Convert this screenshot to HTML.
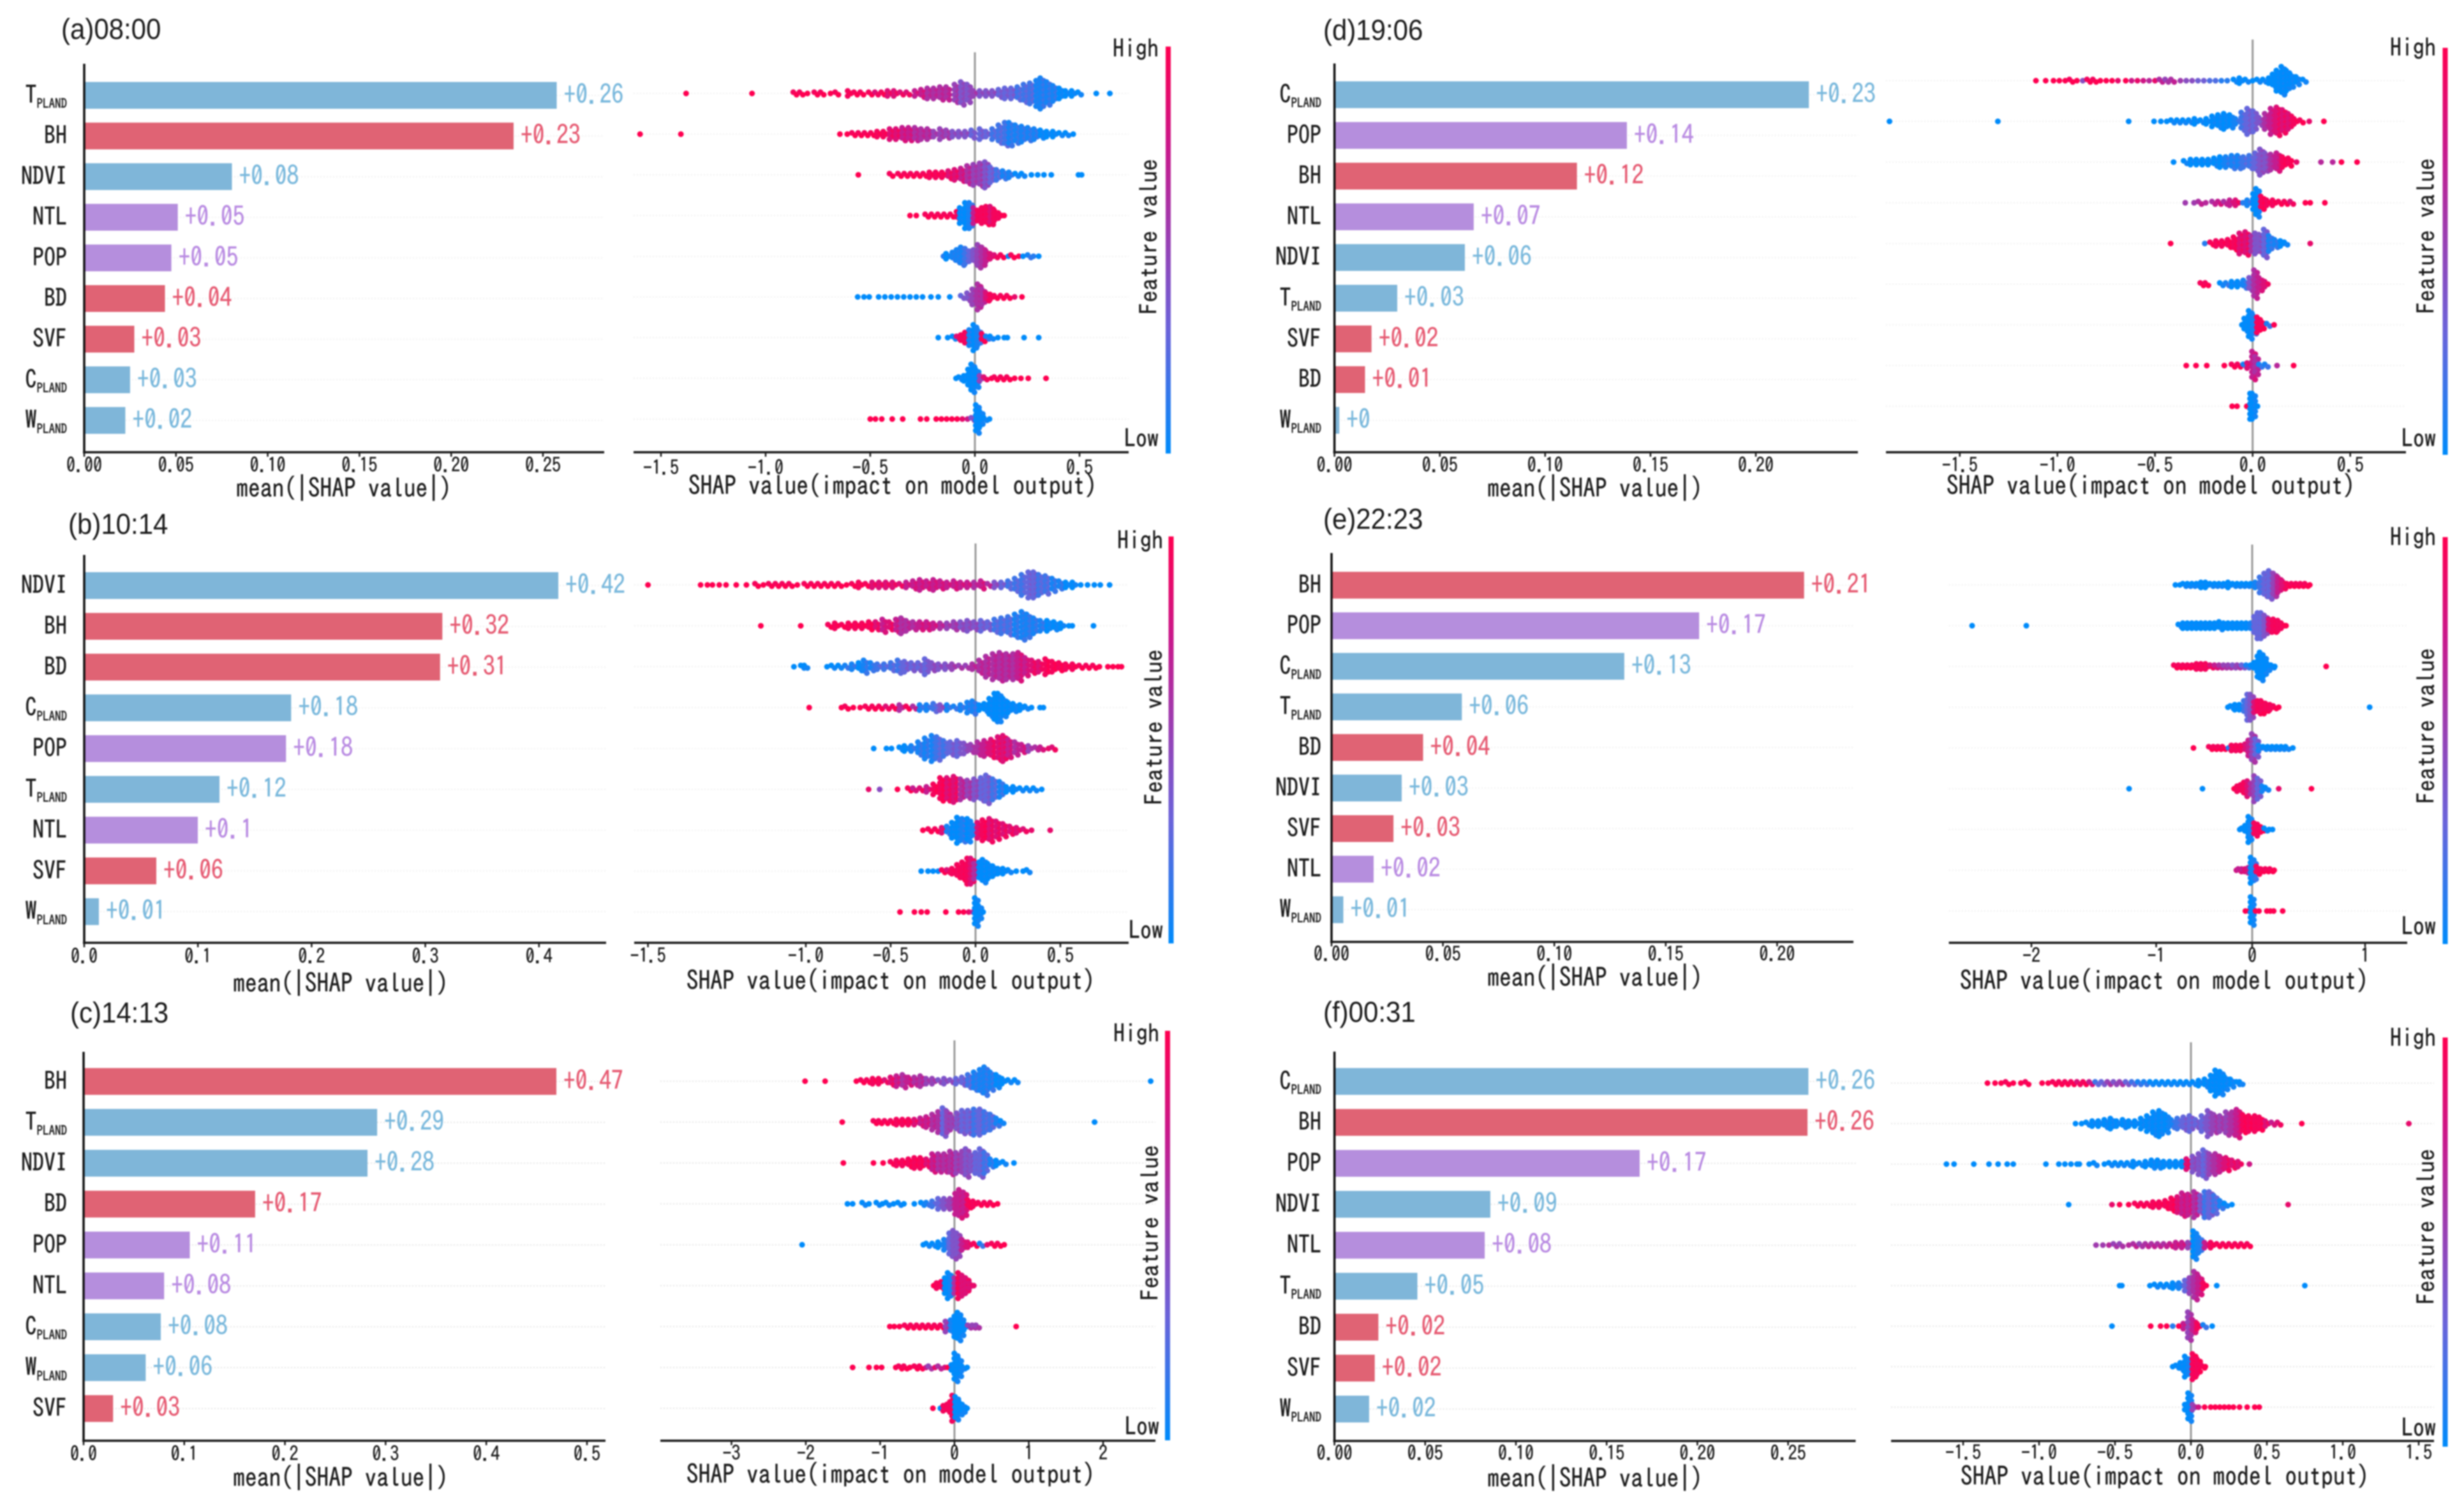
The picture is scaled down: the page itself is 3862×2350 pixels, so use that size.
<!DOCTYPE html>
<html lang="en">
<head>
<meta charset="utf-8">
<title>SHAP importance by time of day</title>
<style>
html,body{margin:0;padding:0;background:#fff;width:3862px;height:2350px;overflow:hidden}
svg{display:block;filter:blur(1px)}
text{font-family:"IPAGothic","Liberation Mono","Noto Sans CJK JP",monospace;fill:#1c1c1c;stroke:#1c1c1c;stroke-width:.4}
.title{font-family:"Liberation Sans","Noto Sans CJK JP",sans-serif;stroke-width:0}
</style>
</head>
<body>
<svg id="fig" xmlns="http://www.w3.org/2000/svg" width="3862" height="2350" viewBox="0 0 3862 2350">
<defs>
<linearGradient id="cbGrad" x1="0" y1="1" x2="0" y2="0">
<stop offset="0" stop-color="#008bfb"/><stop offset="0.3" stop-color="#6a64da"/><stop offset="0.55" stop-color="#9e3caf"/><stop offset="0.75" stop-color="#c8198c"/><stop offset="1" stop-color="#ff0051"/>
</linearGradient>
</defs>
</svg>
<script>
/* ---------- panel (a) ---------- */
const featuresA=["TPLAND","BH","NDVI","NTL","POP","BD","SVF","CPLAND","WPLAND"];
const meanShapA=[.2575,.234,.0805,.051,.0475,.044,.0273,.025,.0224];
const barTickValuesA=[0,.05,.1,.15,.2,.25];
const barTickLabelsA=["0.00","0.05","0.10","0.15","0.20","0.25"];
const swarmTickValuesA=[-1.5,-1,-.5,0,.5];
const swarmTickLabelsA=["-1.5","-1.0","-0.5","0.0","0.5"];
/* each swarm bin: [SHAP value, number of stacked samples, feature value decile 0-9] */
const swarmA=[
[[-1.38,1,9],[-1.065,1,9],[-.86,2,9],[-.83,2,9],[-.8,1,9],[-.76,2,9],[-.73,2,9],[-.69,1,9],[-.66,2,9],[-.6,3,9],[-.57,2,9],[-.54,2,9],[-.5,2,9],[-.47,2,8],[-.44,2,9],[-.41,3,8],[-.38,3,8],[-.35,2,8],[-.32,2,8],[-.28,3,7],[-.25,4,7],[-.22,5,6],[-.19,5,6],[-.16,6,6],[-.13,6,6],[-.09,8,5],[-.06,10,4],[-.03,8,4],[0,3,5],[.03,3,4],[.06,3,4],[.09,3,4],[.12,4,3],[.15,5,3],[.18,5,3],[.21,6,2],[.24,8,2],[.27,9,2],[.3,11,1],[.32,13,1],[.35,10,1],[.38,7,1],[.41,5,0],[.44,3,0],[.47,3,0],[.5,2,0],[.58,1,0],[.645,1,0]],
[[-1.6,1,9],[-1.405,1,9],[-.645,1,9],[-.61,1,9],[-.58,2,9],[-.55,2,9],[-.52,2,9],[-.49,2,9],[-.46,3,9],[-.43,3,9],[-.4,5,8],[-.37,5,8],[-.34,6,7],[-.31,6,7],[-.28,6,6],[-.25,5,6],[-.22,5,6],[-.19,3,5],[-.16,5,5],[-.13,4,5],[-.1,3,4],[-.07,3,4],[-.04,3,4],[-.01,4,3],[.03,5,3],[.06,3,3],[.09,5,2],[.12,8,2],[.15,10,2],[.17,10,1],[.2,8,1],[.23,7,1],[.26,6,1],[.29,5,1],[.32,4,0],[.35,3,0],[.38,3,0],[.41,2,0],[.44,2,0],[.47,1,0]],
[[-.557,1,9],[-.4,2,9],[-.36,2,9],[-.33,2,9],[-.3,2,9],[-.27,2,9],[-.24,2,9],[-.21,3,9],[-.18,3,9],[-.15,3,9],[-.12,4,8],[-.09,5,8],[-.06,6,7],[-.03,8,6],[0,9,5],[.03,10,5],[.055,11,4],[.08,7,3],[.11,5,2],[.14,4,1],[.17,3,1],[.2,2,0],[.23,2,0],[.27,1,0],[.3,1,0],[.33,1,0],[.365,1,0],[.495,1,0],[.51,1,0]],
[[-.31,1,9],[-.28,1,9],[-.23,2,9],[-.2,2,9],[-.17,2,9],[-.14,2,9],[-.11,2,9],[-.08,4,9],[-.065,7,0],[-.04,11,0],[-.02,11,1],[0,7,7],[.02,5,9],[.04,7,9],[.06,8,9],[.08,8,8],[.1,5,9],[.12,3,9],[.14,1,9]],
[[-.15,1,1],[-.13,3,0],[-.1,4,1],[-.08,6,1],[-.06,8,1],[-.04,7,2],[-.02,5,3],[0,6,4],[.02,10,5],[.04,8,6],[.06,5,7],[.08,3,8],[.1,2,8],[.13,2,9],[.16,1,0],[.18,2,9],[.21,1,9],[.23,1,0],[.26,2,1],[.28,1,1],[.305,1,0]],
[[-.56,1,0],[-.53,1,0],[-.505,1,0],[-.46,1,0],[-.43,1,0],[-.4,1,0],[-.37,1,0],[-.34,1,0],[-.31,1,0],[-.28,1,0],[-.25,1,0],[-.21,1,0],[-.175,1,0],[-.12,1,0],[-.06,2,3],[-.03,4,4],[-.005,7,5],[.02,11,6],[.04,7,6],[.06,4,8],[.08,3,9],[.1,2,9],[.13,2,9],[.16,2,9],[.19,1,8],[.225,1,9]],
[[-.175,1,0],[-.13,1,0],[-.1,2,0],[-.08,2,8],[-.06,3,9],[-.04,5,9],[-.02,7,1],[0,11,0],[.02,7,1],[.04,4,9],[.06,2,1],[.08,2,0],[.11,1,0],[.14,1,0],[.155,1,0],[.235,1,0],[.305,1,0]],
[[-.09,1,0],[-.07,2,0],[-.045,3,0],[-.025,8,0],[-.01,12,0],[.01,8,0],[.03,3,5],[.05,2,8],[.08,1,9],[.1,2,9],[.13,2,9],[.16,2,9],[.19,1,9],[.22,1,9],[.255,1,9],[.34,1,9]],
[[-.5,1,9],[-.475,1,9],[-.445,1,9],[-.395,1,9],[-.345,1,9],[-.26,1,9],[-.23,1,9],[-.185,1,9],[-.16,1,9],[-.135,1,9],[-.11,1,9],[-.085,1,9],[-.06,1,8],[-.035,1,7],[-.01,2,4],[.012,12,0],[.03,7,0],[.05,2,0],[.07,1,0]]
];
/* ---------- panel (b) ---------- */
const featuresB=["NDVI","BH","BD","CPLAND","POP","TPLAND","NTL","SVF","WPLAND"];
const meanShapB=[.417,.315,.313,.182,.1775,.119,.0999,.0634,.0129];
const barTickValuesB=[0,.1,.2,.3,.4];
const barTickLabelsB=["0.0","0.1","0.2","0.3","0.4"];
const swarmTickValuesB=[-1.93,-1,-.5,0,.5];
const swarmTickLabelsB=["-1.5","-1.0","-0.5","0.0","0.5"];
const swarmB=[
[[-1.93,1,9],[-1.62,1,9],[-1.58,1,9],[-1.55,1,9],[-1.51,1,9],[-1.47,1,9],[-1.41,1,9],[-1.35,1,9],[-1.29,2,9],[-1.25,1,9],[-1.21,2,9],[-1.17,2,9],[-1.13,2,9],[-1.09,2,9],[-1.05,1,9],[-1.0,2,9],[-.96,2,9],[-.92,2,9],[-.88,2,9],[-.84,2,9],[-.8,2,9],[-.76,1,9],[-.72,2,9],[-.68,3,9],[-.64,2,9],[-.6,3,8],[-.56,3,8],[-.52,3,8],[-.48,3,8],[-.44,2,8],[-.4,3,7],[-.36,4,7],[-.32,5,7],[-.28,4,7],[-.24,5,7],[-.2,4,7],[-.16,3,7],[-.12,4,7],[-.08,3,7],[-.04,3,7],[0,3,6],[.04,4,7],[.08,2,6],[.12,3,4],[.16,3,3],[.2,4,2],[.24,6,2],[.28,9,2],[.32,11,3],[.35,11,3],[.38,9,2],[.42,8,2],[.46,6,1],[.5,4,1],[.54,3,0],[.58,3,0],[.62,1,0],[.66,1,0],[.7,1,0],[.735,1,0],[.79,1,0]],
[[-1.265,1,9],[-1.03,1,9],[-.86,2,9],[-.82,3,9],[-.78,2,9],[-.74,3,9],[-.7,3,9],[-.66,3,9],[-.62,4,9],[-.58,4,8],[-.54,6,7],[-.5,4,8],[-.46,6,7],[-.43,7,6],[-.4,5,6],[-.36,4,6],[-.32,4,7],[-.28,4,7],[-.24,3,7],[-.2,3,6],[-.16,3,5],[-.12,4,5],[-.08,4,4],[-.04,5,4],[0,4,4],[.04,5,3],[.08,4,3],[.12,6,2],[.16,7,2],[.2,8,2],[.24,10,1],[.28,12,1],[.31,10,1],[.35,7,1],[.39,5,1],[.43,5,0],[.47,4,0],[.51,3,0],[.55,1,0],[.57,1,0],[.695,1,0]],
[[-1.07,1,0],[-1.02,2,0],[-1.0,2,0],[-.875,1,0],[-.84,2,0],[-.8,2,0],[-.76,2,1],[-.72,3,1],[-.68,4,0],[-.65,6,1],[-.61,4,1],[-.57,3,2],[-.53,3,2],[-.49,4,2],[-.45,6,2],[-.41,5,3],[-.37,4,3],[-.33,4,3],[-.29,7,3],[-.25,4,4],[-.21,3,4],[-.17,3,4],[-.13,3,5],[-.09,2,5],[-.05,2,5],[-.01,3,6],[.03,6,6],[.07,9,6],[.11,11,6],[.15,12,6],[.19,11,6],[.23,11,6],[.26,12,7],[.3,8,7],[.34,6,8],[.38,5,8],[.42,7,9],[.46,5,9],[.5,4,9],[.54,3,9],[.58,3,9],[.62,2,9],[.66,2,9],[.7,2,9],[.73,1,9],[.78,1,9],[.81,1,9],[.84,1,9],[.86,1,9]],
[[-.98,1,9],[-.79,1,9],[-.76,2,9],[-.72,1,9],[-.68,1,9],[-.64,2,9],[-.6,2,9],[-.56,2,9],[-.52,2,8],[-.48,2,9],[-.44,3,6],[-.4,2,9],[-.36,2,6],[-.32,3,1],[-.28,3,1],[-.24,4,2],[-.2,3,4],[-.16,3,1],[-.12,2,1],[-.08,3,1],[-.04,5,1],[-.01,6,1],[.03,3,0],[.06,4,0],[.09,8,0],[.12,12,0],[.14,12,0],[.17,8,0],[.2,5,0],[.23,4,0],[.27,3,0],[.3,2,0],[.33,1,0],[.38,1,0],[.4,1,0]],
[[-.6,1,0],[-.525,1,0],[-.495,1,0],[-.44,2,0],[-.41,3,0],[-.37,3,1],[-.33,6,1],[-.29,9,1],[-.25,11,1],[-.22,10,2],[-.18,7,2],[-.14,6,3],[-.1,7,3],[-.06,5,4],[-.02,4,5],[.02,6,6],[.06,7,7],[.1,8,8],[.14,10,8],[.17,11,8],[.2,8,7],[.24,6,6],[.28,4,7],[.32,3,5],[.36,2,6],[.39,2,7],[.43,1,8],[.46,2,8]],
[[-.63,1,8],[-.565,1,4],[-.46,1,9],[-.39,2,9],[-.36,2,7],[-.32,2,8],[-.28,3,7],[-.24,5,9],[-.2,10,9],[-.16,10,8],[-.12,11,8],[-.08,9,6],[-.04,8,5],[0,9,4],[.04,10,3],[.07,12,3],[.11,9,2],[.15,7,1],[.19,3,0],[.23,3,0],[.27,2,0],[.31,2,0],[.35,2,0],[.39,1,0]],
[[-.31,1,9],[-.27,2,9],[-.23,2,9],[-.19,3,8],[-.16,4,1],[-.13,7,0],[-.1,11,0],[-.07,10,1],[-.04,10,0],[-.01,5,1],[.02,7,8],[.05,9,9],[.09,10,8],[.13,8,8],[.17,6,8],[.21,4,8],[.25,3,8],[.29,2,8],[.33,1,8],[.44,1,8]],
[[-.32,1,0],[-.28,1,0],[-.25,1,0],[-.22,1,0],[-.19,2,9],[-.16,2,8],[-.13,3,9],[-.1,6,9],[-.07,8,9],[-.04,11,9],[-.02,11,8],[0,7,6],[.03,8,0],[.05,10,0],[.08,7,0],[.11,5,0],[.14,3,0],[.17,3,0],[.2,2,0],[.24,1,0],[.28,1,0],[.31,2,0]],
[[-.445,1,9],[-.36,1,9],[-.32,1,9],[-.285,1,9],[-.175,1,9],[-.1,1,9],[-.07,1,9],[-.04,1,8],[-.015,1,6],[.005,12,0],[.025,6,0],[.045,1,0]]
];
/* ---------- panel (c) ---------- */
const featuresC=["BH","TPLAND","NDVI","BD","POP","NTL","CPLAND","WPLAND","SVF"];
const meanShapC=[.4696,.2916,.282,.1704,.1055,.08,.0767,.0617,.0293];
const barTickValuesC=[0,.1,.2,.3,.4,.5];
const barTickLabelsC=["0.0","0.1","0.2","0.3","0.4","0.5"];
const swarmTickValuesC=[-3,-2,-1,0,1,2];
const swarmTickLabelsC=["-3","-2","-1","0","1","2"];
const swarmC=[
[[-2.01,1,9],[-1.74,1,9],[-1.32,1,9],[-1.24,2,9],[-1.16,2,9],[-1.08,3,9],[-1.0,3,9],[-.92,2,8],[-.84,4,8],[-.76,5,7],[-.68,6,6],[-.6,4,7],[-.52,4,6],[-.44,5,6],[-.36,3,5],[-.28,3,5],[-.2,2,4],[-.12,3,4],[-.04,2,4],[.04,3,3],[.12,4,3],[.2,6,2],[.28,8,1],[.36,10,1],[.42,12,1],[.5,8,1],[.58,6,0],[.66,3,0],[.74,2,0],[.83,2,0],[2.64,1,0]],
[[-1.51,1,9],[-1.07,2,9],[-1.0,2,9],[-.92,2,9],[-.84,2,9],[-.76,3,9],[-.68,3,9],[-.6,3,9],[-.52,3,8],[-.44,4,7],[-.36,5,7],[-.28,7,6],[-.2,9,6],[-.14,12,3],[-.08,9,5],[-.02,5,5],[.05,8,4],[.12,10,3],[.2,10,3],[.28,11,2],[.36,11,3],[.42,9,2],[.5,7,2],[.58,4,1],[.64,2,0],[1.885,1,0]],
[[-1.495,1,9],[-1.09,1,9],[-.96,1,9],[-.84,2,9],[-.76,3,9],[-.68,3,9],[-.6,4,9],[-.52,5,9],[-.44,5,9],[-.36,4,8],[-.28,8,7],[-.2,8,6],[-.12,8,6],[-.04,10,6],[.04,9,5],[.12,10,5],[.17,12,4],[.24,7,4],[.3,9,3],[.36,12,3],[.42,9,2],[.5,4,1],[.58,3,0],[.67,2,0],[.8,1,0]],
[[-1.44,1,0],[-1.37,1,0],[-1.22,2,0],[-1.15,1,0],[-1.03,2,0],[-.97,1,0],[-.9,2,0],[-.82,1,0],[-.74,2,0],[-.68,1,0],[-.54,1,0],[-.43,2,0],[-.36,2,1],[-.28,3,2],[-.2,5,3],[-.12,5,4],[-.04,5,5],[.03,9,7],[.08,12,7],[.14,10,7],[.2,4,9],[.27,3,9],[.34,2,9],[.42,2,9],[.5,2,9],[.58,1,9]],
[[-2.05,1,0],[-.42,1,0],[-.36,2,0],[-.28,2,0],[-.2,3,0],[-.12,5,1],[-.05,10,3],[0,12,4],[.05,10,4],[.12,5,7],[.2,3,8],[.28,2,9],[.36,2,1],[.44,1,8],[.52,2,9],[.6,2,9],[.67,1,9]],
[[-.28,1,9],[-.22,3,9],[-.16,4,9],[-.11,7,0],[-.07,11,0],[-.03,9,1],[.02,7,6],[.07,11,9],[.12,9,8],[.17,7,8],[.22,3,8],[.26,1,8]],
[[-.87,1,9],[-.81,1,9],[-.74,1,9],[-.65,2,9],[-.57,2,9],[-.49,2,9],[-.41,2,9],[-.33,2,9],[-.25,2,9],[-.17,2,9],[-.1,5,5],[-.03,6,1],[.02,9,0],[.06,12,0],[.1,8,0],[.15,3,0],[.2,2,5],[.26,2,5],[.31,2,5],[.83,1,9]],
[[-1.37,1,9],[-1.15,1,9],[-1.05,1,9],[-.98,1,9],[-.79,1,9],[-.73,2,9],[-.66,2,9],[-.6,1,9],[-.52,2,9],[-.45,2,9],[-.38,1,7],[-.33,2,5],[-.26,1,8],[-.2,2,6],[-.13,1,7],[-.09,1,9],[-.02,3,0],[.02,12,0],[.07,8,0],[.12,2,0],[.17,1,0]],
[[-.29,1,9],[-.19,1,0],[-.13,3,9],[-.08,4,9],[-.04,6,9],[-.01,11,9],[.03,10,0],[.08,6,0],[.12,4,0],[.17,1,0]]
];
/* ---------- panel (d) ---------- */
const featuresD=["CPLAND","POP","BH","NTL","NDVI","TPLAND","SVF","BD","WPLAND"];
const meanShapD=[.2252,.1388,.1151,.0661,.0619,.0298,.0176,.0145,.0023];
const barTickValuesD=[0,.05,.1,.15,.2];
const barTickLabelsD=["0.00","0.05","0.10","0.15","0.20"];
const swarmTickValuesD=[-1.5,-1,-.5,0,.5];
const swarmTickLabelsD=["-1.5","-1.0","-0.5","0.0","0.5"];
const swarmD=[
[[-1.11,1,9],[-1.06,1,9],[-1.02,1,9],[-.99,1,9],[-.96,1,9],[-.93,2,9],[-.9,1,9],[-.87,1,4],[-.84,2,9],[-.81,2,9],[-.78,1,9],[-.75,1,9],[-.72,1,9],[-.69,1,8],[-.65,1,9],[-.62,1,7],[-.59,1,8],[-.56,1,7],[-.53,1,6],[-.5,1,8],[-.47,2,6],[-.44,2,5],[-.41,2,6],[-.37,1,5],[-.34,1,4],[-.31,1,4],[-.28,1,3],[-.25,1,3],[-.22,1,2],[-.19,1,2],[-.16,1,1],[-.13,1,1],[-.09,2,0],[-.06,3,0],[-.03,2,0],[0,1,0],[.03,2,0],[.06,2,0],[.09,3,0],[.11,6,0],[.13,9,0],[.155,12,0],[.18,9,0],[.2,6,0],[.23,4,0],[.265,2,0]],
[[-1.86,1,0],[-1.305,1,0],[-.635,1,0],[-.505,1,0],[-.47,1,0],[-.44,1,0],[-.41,2,0],[-.38,2,0],[-.35,2,0],[-.32,2,0],[-.29,3,0],[-.26,2,0],[-.23,3,0],[-.2,5,0],[-.17,6,0],[-.14,7,0],[-.11,6,0],[-.08,3,1],[-.05,8,2],[-.02,11,3],[.01,9,3],[.04,4,4],[.07,7,6],[.1,11,7],[.13,12,8],[.16,10,8],[.19,7,8],[.22,3,9],[.25,2,9],[.29,1,8],[.365,1,9]],
[[-.405,1,0],[-.345,2,0],[-.31,3,0],[-.28,3,0],[-.25,3,0],[-.22,3,0],[-.19,4,0],[-.16,5,0],[-.13,5,1],[-.1,6,1],[-.07,6,1],[-.04,5,2],[-.01,6,2],[.02,8,3],[.045,11,4],[.07,8,4],[.1,7,6],[.13,8,7],[.16,5,9],[.19,4,9],[.225,1,8],[.35,1,6],[.41,1,6],[.455,1,9],[.535,1,9]],
[[-.345,1,5],[-.3,1,5],[-.27,2,6],[-.24,1,6],[-.2,2,6],[-.17,2,7],[-.14,2,6],[-.11,3,7],[-.08,3,8],[-.05,1,1],[-.02,3,1],[.01,8,0],[.025,12,0],[.05,6,9],[.08,3,9],[.11,3,9],[.14,2,9],[.17,2,9],[.2,2,8],[.27,1,9],[.295,1,9],[.37,1,9]],
[[-.42,1,9],[-.245,1,1],[-.21,2,9],[-.18,3,9],[-.15,3,9],[-.12,4,9],[-.09,6,9],[-.06,9,8],[-.03,10,8],[0,7,6],[.02,9,4],[.04,8,4],[.065,12,3],[.09,7,1],[.12,4,1],[.15,3,0],[.17,2,0],[.295,1,8]],
[[-.26,2,9],[-.235,2,9],[-.16,2,0],[-.13,2,1],[-.1,3,0],[-.07,3,0],[-.04,4,1],[-.01,6,4],[.015,12,6],[.04,6,7],[.07,3,8]],
[[-.055,1,0],[-.035,6,0],[-.012,12,0],[.01,8,1],[.03,7,9],[.05,4,9],[.08,2,1],[.11,1,9]],
[[-.34,1,9],[-.29,1,9],[-.235,1,9],[-.145,1,9],[-.1,2,9],[-.07,2,9],[-.04,2,1],[-.02,3,8],[.005,12,7],[.02,8,6],[.04,2,1],[.07,2,1],[.125,1,6],[.21,1,9]],
[[-.105,1,9],[-.08,1,9],[-.03,1,9],[-.005,11,0],[.005,11,0],[.025,1,0]]
];
/* ---------- panel (e) ---------- */
const featuresE=["BH","POP","CPLAND","TPLAND","BD","NDVI","SVF","NTL","WPLAND"];
const meanShapE=[.2121,.165,.1314,.0585,.0411,.0315,.0278,.0189,.0053];
const barTickValuesE=[0,.05,.1,.15,.2];
const barTickLabelsE=["0.00","0.05","0.10","0.15","0.20"];
const swarmTickValuesE=[-1.955,-.85,0,1];
const swarmTickLabelsE=["-2","-1","0","1"];
const swarmE=[
[[-.68,1,0],[-.64,1,0],[-.6,2,0],[-.56,2,0],[-.52,2,0],[-.48,2,0],[-.44,3,0],[-.4,3,0],[-.36,2,0],[-.32,2,0],[-.28,2,0],[-.24,2,0],[-.2,3,0],[-.16,2,0],[-.12,2,0],[-.08,2,0],[-.04,2,0],[0,2,0],[.04,3,1],[.08,7,2],[.12,10,3],[.16,12,3],[.2,10,5],[.24,7,7],[.28,4,8],[.32,2,9],[.36,2,9],[.4,2,9],[.44,2,9],[.48,2,9],[.51,1,9]],
[[-2.48,1,0],[-2.0,1,0],[-.64,2,0],[-.6,3,0],[-.56,3,0],[-.52,3,0],[-.48,3,0],[-.44,3,0],[-.4,3,0],[-.36,3,0],[-.32,3,0],[-.28,4,0],[-.24,3,0],[-.2,3,0],[-.16,3,0],[-.12,3,0],[-.08,3,0],[-.04,3,0],[0,3,1],[.03,8,3],[.06,11,3],[.09,11,3],[.12,9,4],[.16,6,8],[.2,6,9],[.24,5,9],[.27,3,9],[.3,1,9]],
[[-.68,2,9],[-.64,2,9],[-.6,2,9],[-.56,2,9],[-.52,2,9],[-.48,3,9],[-.44,3,9],[-.4,3,9],[-.36,2,8],[-.32,2,7],[-.28,2,6],[-.24,2,5],[-.2,2,5],[-.16,2,4],[-.12,2,5],[-.08,2,3],[-.04,2,1],[0,2,0],[.03,4,0],[.06,9,0],[.08,12,0],[.11,9,0],[.14,4,0],[.18,2,0],[.2,1,0],[.655,1,9]],
[[-.215,1,0],[-.18,2,0],[-.14,3,0],[-.1,3,0],[-.06,6,2],[-.03,11,3],[-.005,11,4],[.03,5,8],[.06,6,9],[.09,6,9],[.13,4,9],[.17,3,9],[.2,2,9],[.235,1,9],[1.04,1,0]],
[[-.52,1,9],[-.37,2,9],[-.33,2,9],[-.29,2,9],[-.25,2,9],[-.21,1,1],[-.17,3,9],[-.13,3,9],[-.09,3,9],[-.05,4,8],[-.02,7,7],[.01,12,5],[.04,8,3],[.07,3,1],[.11,2,0],[.15,2,0],[.19,2,0],[.23,2,0],[.27,2,0],[.31,2,0],[.36,1,0]],
[[-1.09,1,0],[-.44,1,0],[-.16,1,9],[-.12,3,9],[-.09,4,9],[-.06,6,9],[-.03,7,8],[0,5,6],[.03,11,5],[.06,9,3],[.1,3,1],[.13,2,0],[.235,1,8],[.525,1,9]],
[[-.11,1,0],[-.08,2,0],[-.05,4,0],[-.02,11,0],[0,5,1],[.03,6,9],[.06,5,9],[.09,2,9],[.12,2,0],[.15,1,0],[.18,1,0]],
[[-.14,1,7],[-.11,2,7],[-.08,2,7],[-.05,2,8],[-.02,3,7],[0,11,0],[.02,8,1],[.05,4,9],[.09,2,9],[.13,2,9],[.17,2,9],[.195,1,9]],
[[-.06,1,9],[-.03,1,9],[0,12,0],[.03,1,9],[.06,1,9],[.13,1,9],[.16,1,9],[.19,1,9],[.27,1,9]]
];
/* ---------- panel (f) ---------- */
const featuresF=["CPLAND","BH","POP","NDVI","NTL","TPLAND","BD","SVF","WPLAND"];
const meanShapF=[.2612,.2607,.1682,.0859,.0828,.0457,.0242,.0222,.0191];
const barTickValuesF=[0,.05,.1,.15,.2,.25];
const barTickLabelsF=["0.00","0.05","0.10","0.15","0.20","0.25"];
const swarmTickValuesF=[-1.5,-1,-.5,0,.5,1,1.5];
const swarmTickLabelsF=["-1.5","-1.0","-0.5","0.0","0.5","1.0","1.5"];
const swarmF=[
[[-1.34,1,9],[-1.29,1,9],[-1.25,1,9],[-1.21,2,9],[-1.17,1,9],[-1.12,1,9],[-1.08,2,9],[-.98,1,9],[-.94,1,9],[-.9,2,9],[-.86,2,9],[-.82,2,9],[-.78,2,9],[-.74,2,8],[-.7,2,9],[-.66,2,7],[-.62,2,2],[-.58,2,3],[-.54,2,5],[-.5,2,4],[-.46,2,5],[-.42,2,3],[-.38,2,2],[-.34,2,1],[-.3,2,1],[-.26,2,0],[-.22,2,0],[-.18,2,0],[-.14,2,0],[-.1,2,0],[-.06,2,0],[-.02,2,0],[.02,2,0],[.06,3,0],[.1,4,0],[.14,7,0],[.17,11,0],[.2,10,0],[.23,6,0],[.27,4,0],[.31,2,0],[.33,2,0]],
[[-.76,1,0],[-.72,1,0],[-.68,2,0],[-.64,3,0],[-.6,3,0],[-.56,4,0],[-.52,5,0],[-.48,3,0],[-.44,4,0],[-.4,3,0],[-.36,3,0],[-.32,5,0],[-.28,7,0],[-.24,10,0],[-.2,11,0],[-.16,8,0],[-.12,4,1],[-.08,5,2],[-.04,6,3],[0,7,3],[.04,4,3],[.08,7,3],[.12,11,4],[.16,8,5],[.2,7,5],[.24,10,5],[.28,10,6],[.31,12,7],[.35,8,9],[.39,7,9],[.43,7,9],[.46,6,9],[.5,3,8],[.54,2,7],[.58,2,8],[.73,1,9],[1.435,1,8]],
[[-1.61,1,0],[-1.56,1,0],[-1.43,1,0],[-1.33,1,0],[-1.27,1,0],[-1.21,1,0],[-1.17,1,0],[-.955,1,0],[-.87,1,0],[-.83,1,0],[-.79,1,0],[-.75,1,0],[-.735,1,0],[-.67,1,0],[-.63,2,0],[-.57,1,0],[-.53,2,0],[-.49,2,0],[-.45,2,0],[-.41,2,0],[-.37,3,0],[-.33,2,0],[-.29,3,0],[-.25,4,0],[-.21,4,0],[-.17,3,0],[-.13,3,0],[-.09,3,0],[-.05,3,0],[-.02,5,8],[.02,7,4],[.06,9,4],[.09,12,3],[.13,9,5],[.17,9,6],[.2,7,7],[.24,6,8],[.28,4,8],[.32,3,8],[.385,1,7]],
[[-.805,1,0],[-.52,1,8],[-.47,1,9],[-.41,1,9],[-.36,2,9],[-.32,2,9],[-.28,2,9],[-.24,3,9],[-.2,3,9],[-.16,4,9],[-.12,6,9],[-.08,7,8],[-.05,10,7],[-.01,9,7],[.03,11,6],[.07,8,4],[.1,11,2],[.13,11,3],[.16,8,2],[.2,4,1],[.23,2,0],[.27,1,0],[.64,1,8]],
[[-.625,1,5],[-.58,1,5],[-.54,1,6],[-.5,2,5],[-.46,2,5],[-.41,1,6],[-.37,2,6],[-.33,2,5],[-.29,2,6],[-.25,2,6],[-.21,2,6],[-.17,2,6],[-.13,2,7],[-.09,3,7],[-.05,3,7],[-.01,3,5],[.025,12,0],[.06,7,1],[.1,3,7],[.14,3,9],[.18,2,9],[.22,2,9],[.26,2,9],[.3,2,9],[.34,2,9],[.38,2,9]],
[[-.47,1,0],[-.455,1,0],[-.27,1,0],[-.23,2,0],[-.19,2,0],[-.15,2,0],[-.11,3,0],[-.07,3,1],[-.03,5,3],[0,7,5],[.03,12,6],[.06,8,7],[.09,3,9],[.17,1,0],[.75,1,0]],
[[-.52,1,0],[-.265,1,9],[-.2,1,9],[-.16,1,9],[-.12,1,1],[-.08,1,9],[-.04,3,7],[-.01,12,5],[.02,6,7],[.05,3,9],[.09,2,1],[.14,1,0]],
[[-.12,1,0],[-.09,2,0],[-.06,4,0],[-.03,9,0],[0,5,1],[.02,11,9],[.05,7,9],[.08,2,9],[.095,1,9]],
[[-.03,3,0],[-.008,12,0],[.02,3,5],[.05,1,7],[.09,1,9],[.13,1,9],[.16,1,9],[.19,1,9],[.22,1,9],[.25,1,9],[.28,1,9],[.32,1,9],[.37,1,9],[.42,1,9],[.45,1,9]]
];

/* ---------- layout (geometry only) ---------- */
const layouts=[
{id:'a',title:'(a)08:00',features:featuresA,mean:meanShapA,barTicks:barTickValuesA,barTickText:barTickLabelsA,swarm:swarmA,swTicks:swarmTickValuesA,swTickText:swarmTickLabelsA,titleX:96,titleY:48,barLeft:132,barRight:947,barTop:100,axisY:709,row0:149.5,step:63.7,barScale:2876,barTickY:730,barLabelX:539,barLabelY:768,rowLabelX:105,swLeft:993,swRight:1769,swAxisY:709,swZero:1528,swScale:328,swTop:82,swRow0:146.5,swStep:63.8,swTickY:734,swLabelX:1399,swLabelY:764,cbX:1831,cbTop:73,cbBottom:711,hlX:1816,highY:78,lowY:689,fvX:1801,fvY:371,grid:'#f1f1f1'},
{id:'b',title:'(b)10:14',features:featuresB,mean:meanShapB,barTicks:barTickValuesB,barTickText:barTickLabelsB,swarm:swarmB,swTicks:swarmTickValuesB,swTickText:swarmTickLabelsB,titleX:107,titleY:824,barLeft:132,barRight:950,barTop:870,axisY:1478,row0:918,step:63.9,barScale:1782,barTickY:1500,barLabelX:534,barLabelY:1544,rowLabelX:105,swLeft:994,swRight:1769,swAxisY:1478,swZero:1529,swScale:266,swTop:852,swRow0:917,swStep:64.1,swTickY:1499,swLabelX:1396,swLabelY:1540,cbX:1835.5,cbTop:841,cbBottom:1479,hlX:1823,highY:849,lowY:1460,fvX:1809,fvY:1140,grid:'#f1f1f1'},
{id:'c',title:'(c)14:13',features:featuresC,mean:meanShapC,barTicks:barTickValuesC,barTickText:barTickLabelsC,swarm:swarmC,swTicks:swarmTickValuesC,swTickText:swarmTickLabelsC,titleX:110,titleY:1590,barLeft:131,barRight:949,barTop:1649,axisY:2258.6,row0:1695.4,step:64.1,barScale:1578,barTickY:2280,barLabelX:534,barLabelY:2319,rowLabelX:105,swLeft:1035,swRight:1811,swAxisY:2258.6,swZero:1496,swScale:116.5,swTop:1631,swRow0:1695,swStep:64.1,swTickY:2279,swLabelX:1396,swLabelY:2314,cbX:1830,cbTop:1616,cbBottom:2258,hlX:1817,highY:1622,lowY:2238,fvX:1803,fvY:1917,grid:'#e6e6e6'},
{id:'d',title:'(d)19:06',features:featuresD,mean:meanShapD,barTicks:barTickValuesD,barTickText:barTickLabelsD,swarm:swarmD,swTicks:swarmTickValuesD,swTickText:swarmTickLabelsD,titleX:2074,titleY:49.5,barLeft:2091.6,barRight:2912,barTop:99.5,axisY:709,row0:148.5,step:63.8,barScale:3302,barTickY:730,barLabelX:2500,barLabelY:768,rowLabelX:2071,swLeft:2956,swRight:3771,swAxisY:709,swZero:3530.7,swScale:306,swTop:62,swRow0:126.5,swStep:63.8,swTickY:730,swLabelX:3371,swLabelY:764,cbX:3832.5,cbTop:75,cbBottom:713,hlX:3818,highY:76.5,lowY:689,fvX:3803,fvY:370,grid:'#f1f1f1'},
{id:'e',title:'(e)22:23',features:featuresE,mean:meanShapE,barTicks:barTickValuesE,barTickText:barTickLabelsE,swarm:swarmE,swTicks:swarmTickValuesE,swTickText:swarmTickLabelsE,titleX:2074,titleY:816,barLeft:2087,barRight:2905,barTop:867,axisY:1476.6,row0:917.4,step:63.6,barScale:3492,barTickY:1496.5,barLabelX:2500,barLabelY:1535,rowLabelX:2071,swLeft:3054.6,swRight:3773,swAxisY:1478,swZero:3530,swScale:177,swTop:853.7,swRow0:917,swStep:63.9,swTickY:1499,swLabelX:3392,swLabelY:1540,cbX:3832.5,cbTop:842,cbBottom:1480,hlX:3818,highY:844,lowY:1454,fvX:3803,fvY:1138,grid:'#f1f1f1'},
{id:'f',title:'(f)00:31',features:featuresF,mean:meanShapF,barTicks:barTickValuesF,barTickText:barTickLabelsF,swarm:swarmF,swTicks:swarmTickValuesF,swTickText:swarmTickLabelsF,titleX:2074,titleY:1589,barLeft:2091.6,barRight:2908.5,barTop:1648.6,axisY:2259,row0:1695.4,step:64.2,barScale:2844,barTickY:2279,barLabelX:2500,barLabelY:2320,rowLabelX:2071,swLeft:2964,swRight:3815,swAxisY:2259,swZero:3434,swScale:238,swTop:1634,swRow0:1698,swStep:63.5,swTickY:2278,swLabelX:3393,swLabelY:2317,cbX:3832.5,cbTop:1626.5,cbBottom:2268,hlX:3818,highY:1629,lowY:2240,fvX:3803,fvY:1923,grid:'#e6e6e6'}
];

const SVGNS='http://www.w3.org/2000/svg';
const fig=document.getElementById('fig');
function make(tag,attrs,parent,text){
  const el=document.createElementNS(SVGNS,tag);
  for(const k in attrs) el.setAttribute(k,attrs[k]);
  if(text!==undefined) el.textContent=text;
  parent.appendChild(el);
  return el;
}
const featureColor={TPLAND:'#7fb6d9',CPLAND:'#7fb6d9',WPLAND:'#7fb6d9',NDVI:'#7fb6d9',BH:'#e06374',BD:'#e06374',SVF:'#e06374',NTL:'#b58edd',POP:'#b58edd'};
const labelColor={TPLAND:'#79b8dc',CPLAND:'#79b8dc',WPLAND:'#79b8dc',NDVI:'#79b8dc',BH:'#e65a72',BD:'#e65a72',SVF:'#e65a72',NTL:'#b98be2',POP:'#b98be2'};
const rampStops=[[0,[0,139,251]],[.3,[106,100,218]],[.55,[158,60,175]],[.75,[200,25,140]],[1,[255,0,81]]];
function ramp(t){
  t=Math.max(0,Math.min(1,t));
  for(let i=1;i<rampStops.length;i++){
    if(t<=rampStops[i][0]){
      const a=rampStops[i-1],b=rampStops[i],u=(t-a[0])/(b[0]-a[0]);
      return 'rgb('+a[1].map((v,j)=>Math.round(v+(b[1][j]-v)*u)).join(',')+')';
    }
  }
  return '#ff0051';
}
function valueText(v){
  return '+'+String(Math.round(v*100)/100);
}
function place(x,y){
  return 'translate('+x+' '+y+') scale(1 1.1)';
}
const DOT_R=4.5, DOT_GAP=4, DOT_SHIFT=2.6;

layouts.forEach(function(P){
  const panel=make('g',{},fig);
  
  

  const title=make('text',{x:P.titleX,y:P.titleY+13,'font-size':42,class:'title',transform:'translate(0 '+(P.titleY+13)+') scale(1 1.08) translate(0 '+(-(P.titleY+13))+')'},panel,P.title);
  
  

  /* ---- bar chart ---- */
  const xBar=v=>P.barLeft+v*P.barScale;
  const yBar=i=>P.row0+i*P.step;
  const yBarAxis=P.axisY;
  P.features.forEach(function(f,i){
    const line=make('line',{x1:P.barLeft,x2:P.barRight,y1:yBar(i),y2:yBar(i),stroke:P.grid,'stroke-width':2,'stroke-dasharray':'2 3'},panel);
    
    

    const bar=make('rect',{x:xBar(0),y:yBar(i)-21,width:xBar(P.mean[i])-xBar(0),height:42,fill:featureColor[f]},panel);
    
    

    const val=make('text',{transform:place(xBar(P.mean[i])+11,yBar(i)+13),'font-size':37.5,style:'fill:'+labelColor[f]+';stroke:'+labelColor[f]},panel,valueText(P.mean[i]));
    
    

    const lab=make('text',{transform:place(P.rowLabelX,yBar(i)+13),'text-anchor':'end','font-size':36},panel);
    
    
    if(f.endsWith('PLAND')){
      make('tspan',{},lab,f[0]);
      make('tspan',{'font-size':19,dy:7},lab,'PLAND');
    }else{
      lab.textContent=f;
    }
  });
  const spine=make('line',{x1:P.barLeft,x2:P.barLeft,y1:P.barTop,y2:yBarAxis+2,stroke:'#111','stroke-width':3.5},panel);
  
  
  const xaxis=make('line',{x1:P.barLeft-2,x2:P.barRight,y1:yBarAxis,y2:yBarAxis,stroke:'#1a1a1a','stroke-width':3.5},panel);
  
  
  P.barTicks.forEach(function(t,i){
    const tk=make('line',{x1:xBar(t),x2:xBar(t),y1:yBarAxis,y2:yBarAxis+7,stroke:'#1a1a1a','stroke-width':2.5},panel);
    
    
    const tl=make('text',{transform:place(xBar(t),P.barTickY+10),'text-anchor':'middle','font-size':28},panel,P.barTickText[i]);
    
    
  });
  const bl=make('text',{transform:place(P.barLabelX,P.barLabelY+12),'text-anchor':'middle','font-size':37.5},panel,'mean(|SHAP value|)');
  
  

  /* ---- beeswarm ---- */
  const xSw=v=>P.swZero+v*P.swScale;
  const ySw=i=>P.swRow0+i*P.swStep;
  P.swarm.forEach(function(row,i){
    const g=make('line',{x1:P.swLeft,x2:P.swRight,y1:ySw(i),y2:ySw(i),stroke:P.grid,'stroke-width':2,'stroke-dasharray':'2 3'},panel);
    
    
  });
  const zero=make('line',{x1:xSw(0),x2:xSw(0),y1:P.swTop,y2:P.swAxisY,stroke:'#999','stroke-width':3},panel);
  
  
  P.swarm.forEach(function(row,i){
    const rowG=make('g',{},panel);
    
    
    row.forEach(function(bin){
      const v=bin[0],n=bin[1],c=bin[2];
      for(let k=0;k<n;k++){
        const off=(k-(n-1)/2)*DOT_GAP;
        const shift=n>1?(k%2?DOT_SHIFT:-DOT_SHIFT):0;
        const tone=n>1?(k%2?.05:-.05):0;
        const dot=make('circle',{cx:xSw(v)+shift,cy:ySw(i)+off,r:DOT_R,fill:ramp(c/9+tone)},rowG);
        
        
      }
    });
  });
  const sAxis=make('line',{x1:P.swLeft,x2:P.swRight,y1:P.swAxisY,y2:P.swAxisY,stroke:'#1a1a1a','stroke-width':3.5},panel);
  
  
  P.swTicks.forEach(function(t,i){
    const tk=make('line',{x1:xSw(t),x2:xSw(t),y1:P.swAxisY,y2:P.swAxisY+7,stroke:'#1a1a1a','stroke-width':2.5},panel);
    
    
    const tl=make('text',{transform:place(xSw(t),P.swTickY+10),'text-anchor':'middle','font-size':28},panel,P.swTickText[i]);
    
    
  });
  const sl=make('text',{transform:place(P.swLabelX,P.swLabelY+12),'text-anchor':'middle','font-size':37.7},panel,'SHAP value(impact on model output)');
  
  

  /* ---- colour bar ---- */
  const cb=make('rect',{x:P.cbX-4,y:P.cbTop,width:8,height:P.cbBottom-P.cbTop,fill:'url(#cbGrad)'},panel);
  
  
  const hi=make('text',{transform:place(P.hlX,P.highY+12),'text-anchor':'end','font-size':36},panel,'High');
  
  
  const lo=make('text',{transform:place(P.hlX,P.lowY+12),'text-anchor':'end','font-size':36},panel,'Low');
  
  
  const fv=make('text',{x:P.fvX,y:P.fvY,'text-anchor':'middle','font-size':37.5,transform:'rotate(-90 '+P.fvX+' '+P.fvY+') translate(0 13)'},panel,'Feature value');
  
  
});
</script>
</body>
</html>
